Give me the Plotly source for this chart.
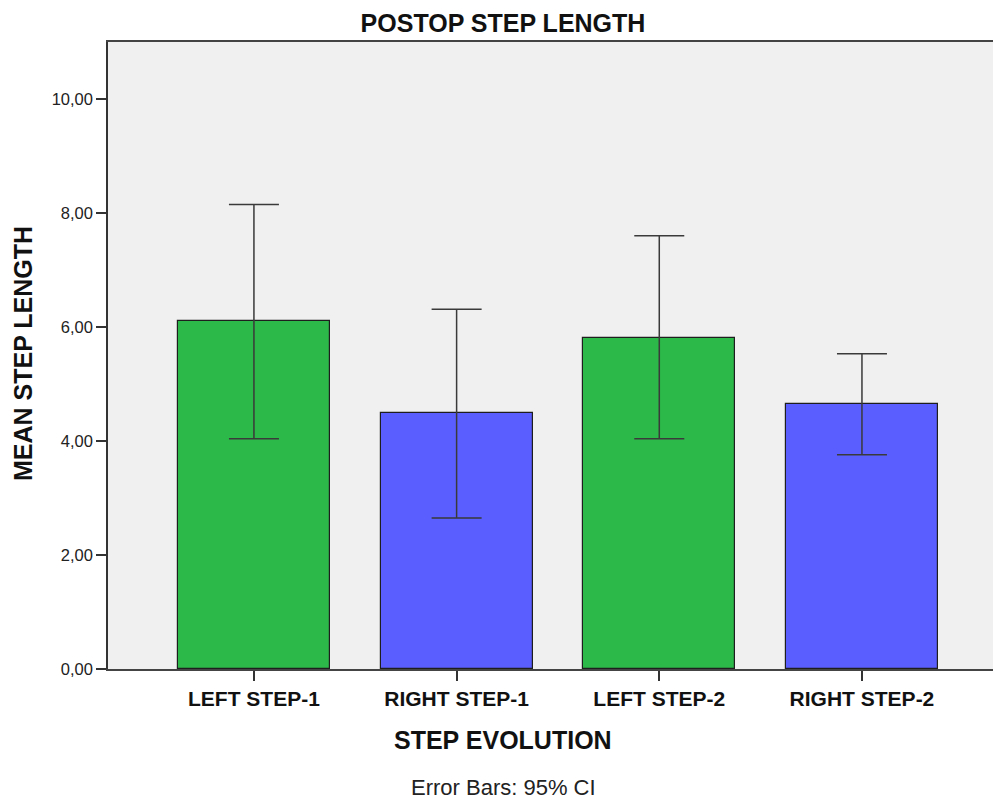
import plotly.graph_objects as go

categories = ["LEFT STEP-1", "RIGHT STEP-1", "LEFT STEP-2", "RIGHT STEP-2"]
means = [6.10, 4.50, 5.81, 4.65]
ci_upper = [8.15, 6.31, 7.60, 5.53]
ci_lower = [4.04, 2.65, 4.04, 3.76]
colors = ["#2db84a", "#5a5eff", "#2db84a", "#5a5eff"]
y_ticks = [0, 2, 4, 6, 8, 10]
y_tick_labels = ["0,00", "2,00", "4,00", "6,00", "8,00", "10,00"]

err_plus = [u - m for u, m in zip(ci_upper, means)]
err_minus = [m - l for m, l in zip(means, ci_lower)]

# page offset: the plot div sits 8px inside the page body
W, H = 993, 795
L, T, B = 100, 34, 134
plot_w = W - L
plot_h = H - T - B

fig = go.Figure()
fig.add_trace(go.Bar(
    x=list(range(len(categories))),
    y=means,
    width=0.75,
    marker=dict(color=colors, line=dict(color="#1e1e1e", width=1.2)),
    error_y=dict(type="data", symmetric=False, array=err_plus, arrayminus=err_minus,
                 color="#3a3a3a", thickness=1.5, width=25),
    showlegend=False,
))

font_family = "Liberation Sans, Arial, sans-serif"

fig.update_layout(
    width=W, height=H,
    margin=dict(l=L, r=0, t=T, b=B),
    paper_bgcolor="white",
    plot_bgcolor="#f0f0f0",
    font=dict(family=font_family, color="#111111"),
    title=dict(text="<b>POSTOP STEP LENGTH</b>", x=495 / W, xanchor="center",
               y=1 - 15 / H, yanchor="middle", font=dict(size=25, color="#111111")),
    bargap=0,
    xaxis=dict(
        range=[-0.72, 3.686],
        tickmode="array",
        tickvals=list(range(len(categories))),
        ticktext=["<b>%s</b>" % c for c in categories],
        tickfont=dict(size=21, color="#111111"),
        ticks="outside", ticklen=10, tickcolor="#333333", tickwidth=1.5,
        showline=True, linecolor="#444444", linewidth=1.5, mirror=True,
        showgrid=False, zeroline=False,
    ),
    yaxis=dict(
        range=[0, 11.0],
        tickmode="array",
        tickvals=y_ticks,
        ticktext=y_tick_labels,
        tickfont=dict(size=16.5, color="#222222"),
        ticks="outside", ticklen=10, tickcolor="#333333", tickwidth=1.5,
        showline=True, linecolor="#333333", linewidth=1.5,
        showgrid=False, zeroline=False,
    ),
    annotations=[
        dict(text="<b>STEP EVOLUTION</b>", x=(495 - L) / plot_w, y=(plot_h + T - 732) / plot_h,
             xref="paper", yref="paper", xanchor="center", yanchor="middle", showarrow=False,
             font=dict(size=25, color="#111111")),
        dict(text="<b>MEAN STEP LENGTH</b>", x=(15 - L) / plot_w, y=(plot_h + T - 346) / plot_h,
             xref="paper", yref="paper", xanchor="center", yanchor="middle", showarrow=False,
             textangle=-90, font=dict(size=25, color="#111111")),
        dict(text="Error Bars: 95% CI", x=(495 - L) / plot_w, y=(plot_h + T - 779) / plot_h,
             xref="paper", yref="paper", xanchor="center", yanchor="middle", showarrow=False,
             font=dict(size=22, color="#222222")),
    ],
)

fig.write_html("out.html")
